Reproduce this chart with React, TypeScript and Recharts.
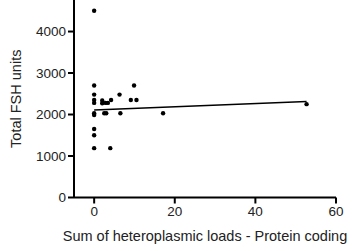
import React from 'react';
import { ScatterChart, Scatter, XAxis, YAxis, Label } from 'recharts';

const loadsX = [0, 0, 0, 0, 0, 0, 0, 0, 0, 0, 2, 2, 2.5, 3, 2.8, 3.4, 4, 4.2, 6.3, 6.5, 9.1, 9.9, 10.5, 17.1, 52.7];
const fshY = [4500, 2700, 2480, 2350, 2280, 2030, 1990, 1650, 1500, 1190, 2340, 2270, 2030, 2030, 2280, 2280, 1190, 2350, 2480, 2030, 2350, 2700, 2350, 2030, 2250];
const fitX = [0, 52.7];
const fitY = [2110, 2315];
const xTicks = [0, 20, 40, 60];
const yTicks = [0, 1000, 2000, 3000, 4000];

const points = loadsX.map((x, i) => ({ x, y: fshY[i] }));
const fit = fitX.map((x, i) => ({ x, y: fitY[i] }));

const Dot = (props: any) => <circle cx={props.cx} cy={props.cy} r={2.2} fill="#000" />;
const NoDot = () => null;

const font = 'Liberation Sans, Arial, sans-serif';
const tickStyle = { fill: '#222', fontSize: 13.5, fontFamily: font };

export default function App() {
  return (
    <div style={{ position: 'absolute', left: 0, top: 0, background: '#fff' }}>
      <ScatterChart width={356} height={251} margin={{ top: 0, right: 20, bottom: 0, left: 0 }}>
        <XAxis
          type="number"
          dataKey="x"
          domain={[-5, 60]}
          ticks={xTicks}
          height={53.5}
          tick={tickStyle}
          tickSize={6}
          tickMargin={3}
          axisLine={{ stroke: '#000', strokeWidth: 2 }}
          tickLine={{ stroke: '#000', strokeWidth: 2 }}
        >
          <Label
            value="Sum of heteroplasmic loads - Protein coding"
            position="insideBottom"
            offset={10}
            style={{ fill: '#222', fontSize: 14.5, fontFamily: font }}
          />
        </XAxis>
        <YAxis
          type="number"
          dataKey="y"
          domain={[0, 4760]}
          ticks={yTicks}
          width={74}
          tick={tickStyle}
          tickSize={6}
          tickMargin={2}
          axisLine={{ stroke: '#000', strokeWidth: 2 }}
          tickLine={{ stroke: '#000', strokeWidth: 2 }}
        >
          <Label
            value="Total FSH units"
            angle={-90}
            position="insideLeft"
            offset={16}
            style={{ fill: '#222', fontSize: 14.5, fontFamily: font, textAnchor: 'middle' }}
          />
        </YAxis>
        <Scatter data={points} shape={<Dot />} isAnimationActive={false} />
        <Scatter data={fit} line={{ stroke: '#000', strokeWidth: 1.5 }} shape={<NoDot />} isAnimationActive={false} />
      </ScatterChart>
    </div>
  );
}
